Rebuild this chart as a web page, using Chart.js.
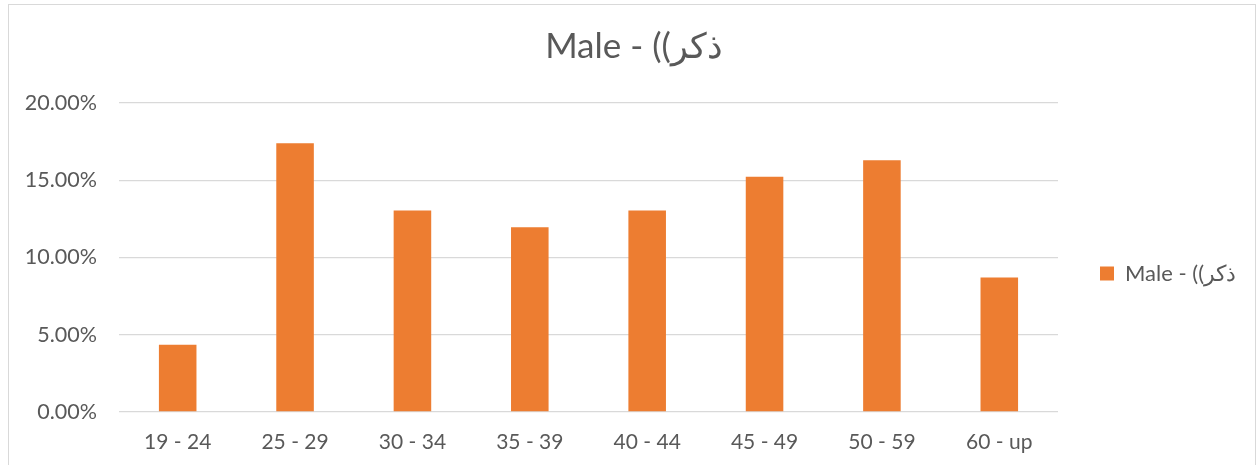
<!DOCTYPE html>
<html lang="en">
<head>
  <meta charset="UTF-8" />
  <title>Male - age groups</title>
  <style>
    body {
      margin: 0;
      background: #fff;
    }
    .frame {
      position: absolute;
      left: 8px;
      top: 4px;
      width: 1246px;
      height: 500px;
      border: 1px solid #d9d9d9;
    }
    .wrap {
      position: absolute;
      left: 0;
      top: 0;
      width: 1257px;
      height: 465px;
    }
  </style>
</head>
<body>
  <div class="frame"></div>
  <div class="wrap">
    <canvas id="maleChart" width="1257" height="465"></canvas>
  </div>

  <script src="https://cdn.jsdelivr.net/npm/chart.js"></script>
  <script>
    // age groups and share of males in each
    const ageGroups = ['19 - 24', '25 - 29', '30 - 34', '35 - 39', '40 - 44', '45 - 49', '50 - 59', '60 - up'];
    const maleShare = [4.35, 17.39, 13.04, 11.96, 13.04, 15.22, 16.30, 8.70];
    const seriesName = 'Male - ((ذكر';
    const yTicks = [0, 5, 10, 15, 20];

    const grey = '#595959';
    const orange = '#ed7d31';

    // title in the original sits a bit right of the canvas centre
    const titleShift = {
      id: 'titleShift',
      afterLayout(chart) {
        if (chart.titleBlock) {
          chart.titleBlock.left += 11;
          chart.titleBlock.right += 11;
        }
      }
    };

    new Chart(document.getElementById('maleChart'), {
      type: 'bar',
      data: {
        labels: ageGroups,
        datasets: [{
          label: seriesName,
          data: maleShare,
          backgroundColor: orange,
          borderWidth: 0,
          barPercentage: 0.32,
          categoryPercentage: 1
        }]
      },
      options: {
        responsive: false,
        animation: false,
        layout: {
          padding: { top: 0, right: 11, bottom: 0, left: 0 }
        },
        plugins: {
          title: {
            display: true,
            text: seriesName,
            color: grey,
            font: { family: 'Lato', size: 35, weight: 'normal' },
            padding: { top: 26, bottom: 35 }
          },
          legend: {
            position: 'right',
            // empty legend title only pushes the entry down
            title: {
              display: true,
              text: ' ',
              font: { size: 10 },
              padding: { top: 35, bottom: 35 }
            },
            labels: {
              color: grey,
              font: { family: 'Lato', size: 22 },
              boxWidth: 14,
              boxHeight: 14,
              padding: 42
            }
          },
          tooltip: { enabled: false }
        },
        scales: {
          x: {
            afterFit: (scale) => { scale.height = 53; },
            grid: { display: false, drawTicks: false },
            border: { display: false },
            ticks: {
              color: grey,
              font: { family: 'Lato', size: 21 },
              padding: 18,
              maxRotation: 0
            }
          },
          y: {
            min: 0,
            max: 20,
            afterFit: (scale) => { scale.width = 119; },
            afterBuildTicks: (scale) => {
              scale.ticks = yTicks.map(v => ({ value: v }));
            },
            grid: {
              color: '#d9d9d9',
              lineWidth: 1.3,
              drawTicks: false
            },
            border: { display: false },
            ticks: {
              color: grey,
              font: { family: 'Lato', size: 21.5 },
              padding: 22,
              callback: (v) => v.toFixed(2) + '%'
            }
          }
        }
      },
      plugins: [titleShift]
    });
  </script>
</body>
</html>
